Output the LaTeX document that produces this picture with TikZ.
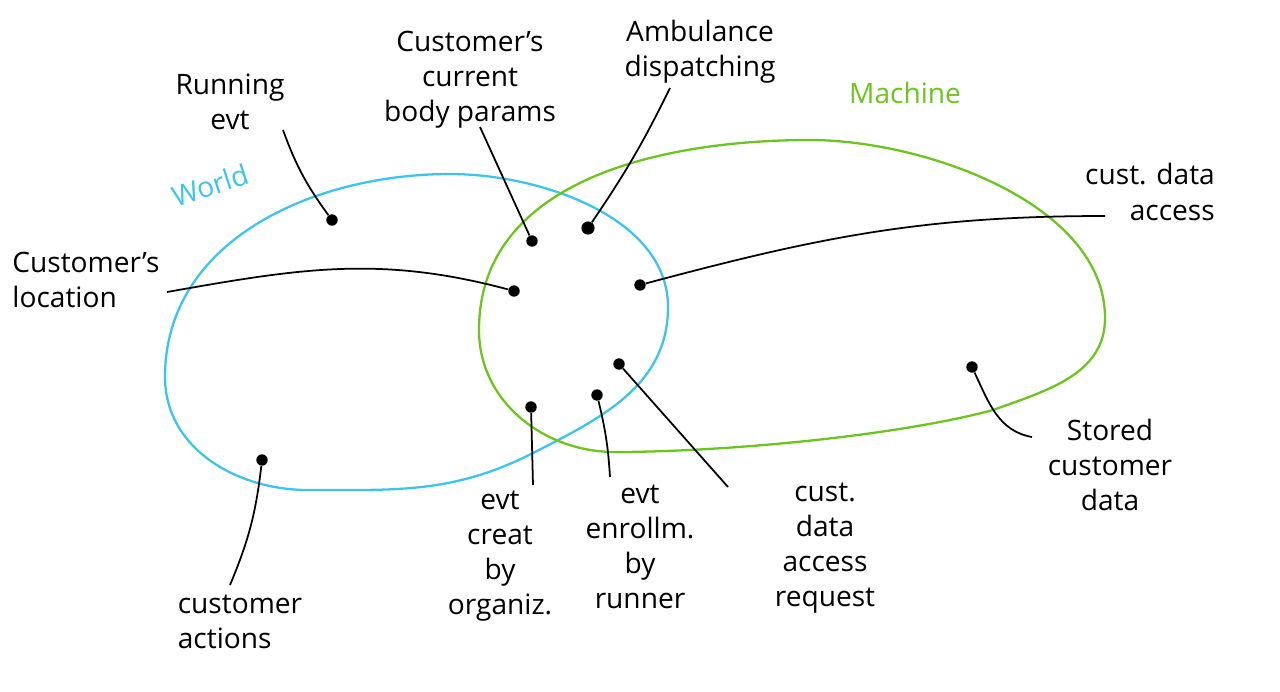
\documentclass[tikz,border=0pt]{standalone}
\usepackage{fontspec}
\setmainfont{Open Sans}
\usetikzlibrary{positioning,calc}
\definecolor{WorldBlue}{HTML}{3CC4F0}
\definecolor{MachineGreen}{HTML}{6CC51E}
\tikzset{
  spot/.style={circle,fill=black,inner sep=0pt,minimum size=6.5pt},
  lbl/.style={align=center,inner sep=1pt,font=\fontsize{16}{20}\selectfont},
  lead/.style={line width=1pt},
  blob/.style={line width=1.3pt},
}

\begin{document}
\begin{tikzpicture}[x=0.02cm,y=-0.02cm]
  \useasboundingbox (0,0) rectangle (1280,691);
  % the two domains
  \draw[blob,WorldBlue] (165,377) to[out=90,in=180] (450,174)
    to[out=0,in=90,looseness=0.9] (668,307) to[out=-90,in=27] (533,453)
    to[out=207,in=0] (308,490) to[out=180,in=-90] cycle;
  \draw[blob,MachineGreen] (479,330) to[out=90,in=180] (810,140)
    to[out=0,in=90,looseness=0.85] (1105,318) to[out=-90,in=20] (993,410)
    to[out=195,in=0,looseness=0.7] (615,452) to[out=180,in=-90] cycle;
  \node[lbl,WorldBlue,rotate=18] (world) at (210,185) {World};
  \node[lbl,MachineGreen] (machine) at (905,93) {Machine};

  % phenomena
  \node[spot] (run) at (332,220) {};
  \node[spot] (body) at (532,241) {};
  \node[spot,minimum size=7.5pt] (amb) at (588,228) {};
  \node[spot] (loc) at (514,291) {};
  \node[spot] (acc) at (640,285) {};
  \node[spot] (req) at (619,364) {};
  \node[spot] (enr) at (597,395) {};
  \node[spot] (crt) at (531,407) {};
  \node[spot] (act) at (262,460) {};
  \node[spot] (sto) at (972,367) {};

  % labels
  \node[lbl] (runL) at (230,102) {Running\\evt};
  \node[lbl] (bodyL) at (470,80) {Customer's\\current\\body params};
  \node[lbl] (ambL) at (700,52) {Ambulance\\dispatching};
  \node[lbl,align=left] (locL) at (86,280) {Customer's\\location};
  \node[lbl,align=right] (accL) at (1150,192) {cust. data\\access};
  \node[lbl] (reqL) at (825,548) {cust.\\data\\access\\request};
  \node[lbl] (enrL) at (640,547) {evt\\enrollm.\\by\\runner};
  \node[lbl] (crtL) at (500,556) {evt\\creat\\by\\organiz.};
  \node[lbl,align=left] (actL) at (240,622) {customer\\actions};
  \node[lbl] (stoL) at (1110,465) {Stored\\customer\\data};

  % free ends of the leaders
  \coordinate (runE) at (283,130);
  \coordinate (bodyE) at (480,127);
  \coordinate (ambE) at (670,88);
  \coordinate (locE) at (167,292);
  \coordinate (accE) at (1105,216);
  \coordinate (reqE) at (728,487);
  \coordinate (enrE) at (610,477);
  \coordinate (crtE) at (533,485);
  \coordinate (actE) at (230,585);
  \coordinate (stoE) at (1032,437);

  \draw[lead] (run) to[bend left=8] (runE);
  \draw[lead] (body) -- (bodyE);
  \draw[lead] (amb) to[bend right=4] (ambE);
  \draw[lead] (loc) to[out=165,in=10] (locE);
  \draw[lead] (acc) to[out=15,in=180] (accE);
  \draw[lead] (req) -- (reqE);
  \draw[lead] (enr) to[bend left=5] (enrE);
  \draw[lead] (crt) -- (crtE);
  \draw[lead] (act) to[bend left=8] (actE);
  \draw[lead] (sto) to[out=-65,in=170] (stoE);
\end{tikzpicture}
\end{document}
